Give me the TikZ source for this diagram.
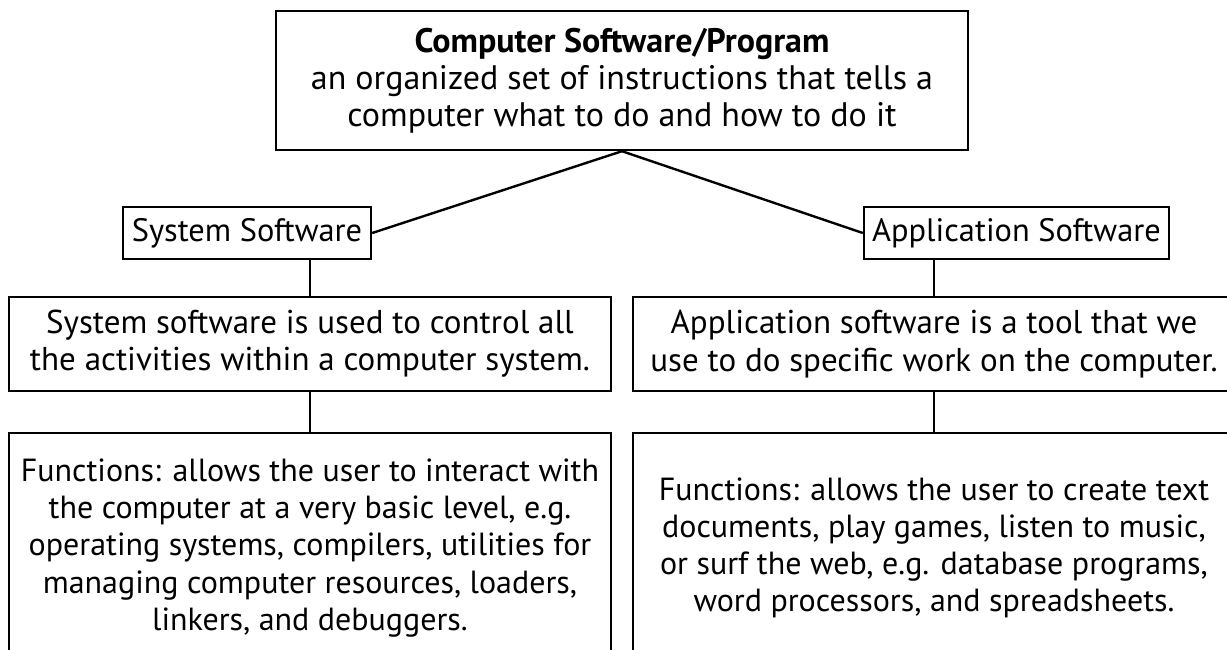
\documentclass[tikz,border=0pt]{standalone}
\usepackage{fontspec}
\setmainfont{PT Sans}

\begin{document}
\begin{tikzpicture}[x=0.5pt,y=-0.5pt,line width=1.2pt,
  box/.style={draw,align=center,inner sep=0pt,
    font=\fontsize{16}{18.6}\selectfont}]
% Fix the frame of the page
  \useasboundingbox (0,0) rectangle (1227,649);
  \clip (0,0) rectangle (1227,649);

  % Draw the top box
  \node[box,minimum width=346pt,minimum height=69.5pt,font=\fontsize{17}{18.6}\selectfont] (prog) at (622,80.5)
    {\textbf{Computer Software/Program}\\an organized set of instructions that tells a\\computer what to do and how to do it};

  % Draw the two kinds of software
  \node[box,minimum width=124pt,minimum height=26pt,font=\fontsize{16.2}{18.6}\selectfont] (sys) at (247,233) {System Software};
  \node[box,minimum width=152.5pt,minimum height=26pt,font=\fontsize{16.2}{18.6}\selectfont] (app) at (1016.5,233) {Application Software};

  % Draw the descriptions
  \node[box,minimum width=301pt,minimum height=47pt,font=\fontsize{16.5}{18.6}\selectfont] (sysdesc) at (310,344)
    {System software is used to control all\\the activities within a computer system.};
  \node[box,minimum width=301pt,minimum height=47pt,font=\fontsize{16.5}{18.6}\selectfont] (appdesc) at (934,344)
    {Application software is a tool that we\\use to do specific work on the computer.};

  % Draw the functions
  \node[box,minimum width=301pt,minimum height=115pt] (sysfun) at (310,548)
    {Functions: allows the user to interact with\\the computer at a very basic level, e.g.\\operating systems, compilers, utilities for\\managing computer resources, loaders,\\linkers, and debuggers.};
  \node[box,minimum width=301pt,minimum height=115pt] (appfun) at (934,548)
    {Functions: allows the user to create text\\documents, play games, listen to music,\\or surf the web, e.g. database programs,\\word processors, and spreadsheets.};

  % Draw the connectors
  \draw (prog.south) -- (sys.east);
  \draw (prog.south) -- (app.west);
  \draw (sysdesc.north) -- (sysdesc.north |- sys.south);
  \draw (appdesc.north) -- (appdesc.north |- app.south);
  \draw (sysdesc.south) -- (sysfun.north);
  \draw (appdesc.south) -- (appfun.north);

\end{tikzpicture}
\end{document}
